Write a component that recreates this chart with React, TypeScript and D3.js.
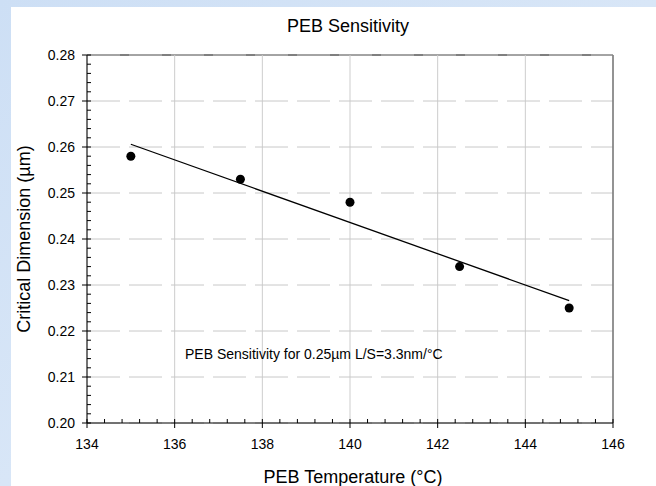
import React from "react";
import * as d3 from "d3";

const temperatures = [135, 137.5, 140, 142.5, 145];
const criticalDimensions = [0.258, 0.253, 0.248, 0.234, 0.225];
const xTickValues = [134, 136, 138, 140, 142, 144, 146];
const yTickValues = [0.2, 0.21, 0.22, 0.23, 0.24, 0.25, 0.26, 0.27, 0.28];
const chartTitle = "PEB Sensitivity";
const xTitle = "PEB Temperature (°C)";
const yTitle = "Critical Dimension (µm)";
const annotation = "PEB Sensitivity for 0.25µm L/S=3.3nm/°C";

const W = 656;
const H = 486;
const L = 87;
const R = 613;
const T = 55;
const B = 423;
const FONT = "'Liberation Sans', Arial, Helvetica, sans-serif";

export default function App() {
  const x = d3.scaleLinear().domain([134, 146]).range([L, R]);
  const y = d3.scaleLinear().domain([0.2, 0.28]).range([B, T]);

  const xMinor = d3.range(134, 146.0001, 0.4);
  const yMinor = d3.range(0.2, 0.28001, 0.002);

  // least-squares trend line
  const mx = d3.mean(temperatures) as number;
  const my = d3.mean(criticalDimensions) as number;
  let sxy = 0;
  let sxx = 0;
  temperatures.forEach((t, i) => {
    sxy += (t - mx) * (criticalDimensions[i] - my);
    sxx += (t - mx) * (t - mx);
  });
  const slope = sxy / sxx;
  const intercept = my - slope * mx;
  const x0 = d3.min(temperatures) as number;
  const x1 = d3.max(temperatures) as number;
  const line = d3
    .line<number>()
    .x((d) => x(d))
    .y((d) => y(intercept + slope * d));

  return (
    <svg
      width={W}
      height={H}
      style={{ position: "absolute", left: 0, top: 0 }}
      fontFamily={FONT}
    >
      <defs>
        <linearGradient id="bg" x1="0" y1="0" x2="1" y2="1">
          <stop offset="0" stopColor="#cddff5" />
          <stop offset="0.5" stopColor="#d8e6f7" />
          <stop offset="1" stopColor="#c9dbf2" />
        </linearGradient>
      </defs>
      <rect x={0} y={0} width={W} height={H} fill="url(#bg)" />
      <rect x={11} y={7} width={W - 11} height={H - 7} fill="#ffffff" />

      {/* frame top (black) */}
      <line x1={L} x2={R} y1={T} y2={T} stroke="#000" strokeWidth={1} />

      {/* vertical grid */}
      {xTickValues.map((v) => (
        <line
          key={"vg" + v}
          x1={x(v)}
          x2={x(v)}
          y1={T}
          y2={B}
          stroke="#cdcdcd"
          strokeWidth={1}
        />
      ))}
      {/* horizontal dashed grid */}
      {yTickValues.map((v) => (
        <line
          key={"hg" + v}
          x1={L}
          x2={R}
          y1={y(v)}
          y2={y(v)}
          stroke="#c8c8c8"
          strokeWidth={1}
          strokeDasharray="33,9"
        />
      ))}

      {/* right frame */}
      <line x1={R} x2={R} y1={T} y2={B} stroke="#777" strokeWidth={1.5} />

      {/* axes */}
      <line x1={L} x2={L} y1={T} y2={B} stroke="#000" strokeWidth={1} />
      <line x1={L} x2={R} y1={B} y2={B} stroke="#000" strokeWidth={1} />

      {/* y ticks */}
      {yMinor.map((v, i) => (
        <line
          key={"ym" + i}
          x1={L}
          x2={L + 4}
          y1={y(v)}
          y2={y(v)}
          stroke="#000"
        />
      ))}
      {yTickValues.map((v) => (
        <g key={"yt" + v}>
          <line x1={L - 5} x2={L} y1={y(v)} y2={y(v)} stroke="#000" />
          <text
            x={L - 12}
            y={y(v)}
            dy="0.35em"
            textAnchor="end"
            fontSize={14}
            fill="#000"
          >
            {d3.format(".2f")(v)}
          </text>
        </g>
      ))}

      {/* x ticks */}
      {xMinor.map((v, i) => (
        <line
          key={"xm" + i}
          x1={x(v)}
          x2={x(v)}
          y1={B}
          y2={B - 4}
          stroke="#000"
        />
      ))}
      {xTickValues.map((v) => (
        <g key={"xt" + v}>
          <line x1={x(v)} x2={x(v)} y1={B} y2={B + 5} stroke="#000" />
          <text
            x={x(v)}
            y={449}
            textAnchor="middle"
            fontSize={14}
            fill="#000"
          >
            {v}
          </text>
        </g>
      ))}

      {/* trend line */}
      <path
        d={line([x0, x1]) || ""}
        fill="none"
        stroke="#000"
        strokeWidth={1.3}
      />

      {/* points */}
      {temperatures.map((t, i) => (
        <circle
          key={"p" + i}
          cx={x(t)}
          cy={y(criticalDimensions[i])}
          r={4.5}
          fill="#000"
        />
      ))}

      {/* annotation */}
      <text x={185} y={359} fontSize={14} fill="#000">
        {annotation}
      </text>

      {/* titles */}
      <text x={348} y={32} textAnchor="middle" fontSize={18} fill="#000">
        {chartTitle}
      </text>
      <text x={353} y={483} textAnchor="middle" fontSize={18} fill="#000">
        {xTitle}
      </text>
      <text
        transform={`translate(30,${(T + B) / 2}) rotate(-90)`}
        textAnchor="middle"
        fontSize={18}
        fill="#000"
      >
        {yTitle}
      </text>
    </svg>
  );
}
